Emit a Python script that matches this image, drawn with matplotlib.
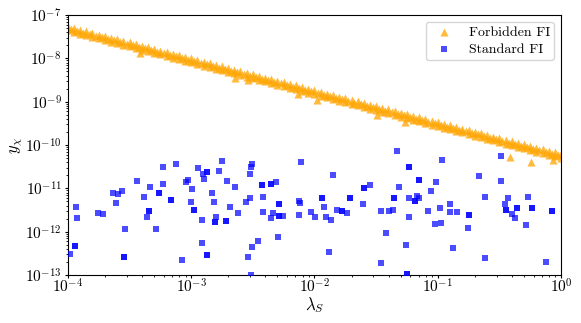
import matplotlib
matplotlib.use("Agg")
import matplotlib.pyplot as plt

plt.rcParams['font.family'] = 'serif'
plt.rcParams['font.serif'] = ['cmr10']
plt.rcParams['mathtext.fontset'] = 'cm'
plt.rcParams['axes.formatter.use_mathtext'] = True

# ---- Forbidden FI (orange triangles) ----
lam_forb = [
    # upper / lower edge of the band
    1.00e-4, 1.12e-4, 1.26e-4, 1.41e-4, 1.58e-4, 1.78e-4, 2.00e-4, 2.24e-4, 2.51e-4, 2.82e-4,
    3.16e-4, 3.55e-4, 3.98e-4, 4.47e-4, 5.01e-4, 5.62e-4, 6.31e-4, 7.08e-4, 7.94e-4, 8.91e-4,
    1.00e-3, 1.12e-3, 1.26e-3, 1.41e-3, 1.58e-3, 1.78e-3, 2.00e-3, 2.24e-3, 2.51e-3, 2.82e-3,
    3.16e-3, 3.55e-3, 3.98e-3, 4.47e-3, 5.01e-3, 5.62e-3, 6.31e-3, 7.08e-3, 7.94e-3, 8.91e-3,
    1.00e-2, 1.12e-2, 1.26e-2, 1.41e-2, 1.58e-2, 1.78e-2, 2.00e-2, 2.24e-2, 2.51e-2, 2.82e-2,
    3.16e-2, 3.55e-2, 3.98e-2, 4.47e-2, 5.01e-2, 5.62e-2, 6.31e-2, 7.08e-2, 7.94e-2, 8.91e-2,
    1.00e-1, 1.12e-1, 1.26e-1, 1.41e-1, 1.58e-1, 1.78e-1, 2.00e-1, 2.24e-1, 2.51e-1, 2.82e-1,
    3.16e-1, 3.55e-1, 3.98e-1, 4.47e-1, 5.01e-1, 5.62e-1, 6.31e-1, 7.08e-1, 7.94e-1, 8.91e-1,
    1.00e0,
    1.00e-4, 1.12e-4, 1.26e-4, 1.41e-4, 1.58e-4, 1.78e-4, 2.00e-4, 2.24e-4, 2.51e-4, 2.82e-4,
    3.16e-4, 3.55e-4, 3.98e-4, 4.47e-4, 5.01e-4, 5.62e-4, 6.31e-4, 7.08e-4, 7.94e-4, 8.91e-4,
    1.00e-3, 1.12e-3, 1.26e-3, 1.41e-3, 1.58e-3, 1.78e-3, 2.00e-3, 2.24e-3, 2.51e-3, 2.82e-3,
    3.16e-3, 3.55e-3, 3.98e-3, 4.47e-3, 5.01e-3, 5.62e-3, 6.31e-3, 7.08e-3, 7.94e-3, 8.91e-3,
    1.00e-2, 1.12e-2, 1.26e-2, 1.41e-2, 1.58e-2, 1.78e-2, 2.00e-2, 2.24e-2, 2.51e-2, 2.82e-2,
    3.16e-2, 3.55e-2, 3.98e-2, 4.47e-2, 5.01e-2, 5.62e-2, 6.31e-2, 7.08e-2, 7.94e-2, 8.91e-2,
    1.00e-1, 1.12e-1, 1.26e-1, 1.41e-1, 1.58e-1, 1.78e-1, 2.00e-1, 2.24e-1, 2.51e-1, 2.82e-1,
    3.16e-1, 3.55e-1, 3.98e-1, 4.47e-1, 5.01e-1, 5.62e-1, 6.31e-1, 7.08e-1, 7.94e-1, 8.91e-1,
    1.00e0,
    # middle of the band
    1.06e-4, 1.19e-4, 1.33e-4, 1.50e-4, 1.68e-4, 1.88e-4, 2.11e-4, 2.37e-4, 2.66e-4, 2.99e-4,
    3.35e-4, 3.76e-4, 4.22e-4, 4.73e-4, 5.31e-4, 5.96e-4, 6.68e-4, 7.50e-4, 8.41e-4, 9.44e-4,
    1.06e-3, 1.19e-3, 1.33e-3, 1.50e-3, 1.68e-3, 1.88e-3, 2.11e-3, 2.37e-3, 2.66e-3, 2.99e-3,
    3.35e-3, 3.76e-3, 4.22e-3, 4.73e-3, 5.31e-3, 5.96e-3, 6.68e-3, 7.50e-3, 8.41e-3, 9.44e-3,
    1.06e-2, 1.19e-2, 1.33e-2, 1.50e-2, 1.68e-2, 1.88e-2, 2.11e-2, 2.37e-2, 2.66e-2, 2.99e-2,
    3.35e-2, 3.76e-2, 4.22e-2, 4.73e-2, 5.31e-2, 5.96e-2, 6.68e-2, 7.50e-2, 8.41e-2, 9.44e-2,
    1.06e-1, 1.19e-1, 1.33e-1, 1.50e-1, 1.68e-1, 1.88e-1, 2.11e-1, 2.37e-1, 2.66e-1, 2.99e-1,
    3.35e-1, 3.76e-1, 4.22e-1, 4.73e-1, 5.31e-1, 5.96e-1, 6.68e-1, 7.50e-1, 8.41e-1, 9.44e-1,
    # points below the band
    3.84e-4, 2.26e-3, 2.89e-3, 7.35e-3, 1.05e-2, 3.21e-2, 5.42e-2, 3.85e-1, 5.71e-1, 8.61e-1,
]
y_forb = [
    5.41e-8, 4.04e-8, 4.56e-8, 3.41e-8, 3.85e-8, 2.88e-8, 3.25e-8, 2.43e-8, 2.75e-8, 2.05e-8,
    2.32e-8, 1.73e-8, 1.96e-8, 1.46e-8, 1.65e-8, 1.23e-8, 1.40e-8, 1.04e-8, 1.18e-8, 8.80e-9,
    9.94e-9, 7.42e-9, 8.39e-9, 6.27e-9, 7.09e-9, 5.29e-9, 5.98e-9, 4.47e-9, 5.05e-9, 3.77e-9,
    4.26e-9, 3.18e-9, 3.60e-9, 2.69e-9, 3.04e-9, 2.27e-9, 2.57e-9, 1.92e-9, 2.17e-9, 1.62e-9,
    1.83e-9, 1.37e-9, 1.54e-9, 1.15e-9, 1.30e-9, 9.73e-10, 1.10e-9, 8.21e-10, 9.29e-10, 6.93e-10,
    7.84e-10, 5.85e-10, 6.62e-10, 4.94e-10, 5.59e-10, 4.17e-10, 4.72e-10, 3.52e-10, 3.98e-10, 2.97e-10,
    3.36e-10, 2.51e-10, 2.84e-10, 2.12e-10, 2.40e-10, 1.79e-10, 2.02e-10, 1.51e-10, 1.71e-10, 1.28e-10,
    1.44e-10, 1.08e-10, 1.22e-10, 9.09e-11, 1.03e-10, 7.67e-11, 8.67e-11, 6.48e-11, 7.32e-11, 5.47e-11,
    6.18e-11,
    4.40e-8, 4.97e-8, 3.71e-8, 4.20e-8, 3.13e-8, 3.54e-8, 2.64e-8, 2.99e-8, 2.24e-8, 2.52e-8,
    1.89e-8, 2.13e-8, 1.59e-8, 1.80e-8, 1.34e-8, 1.51e-8, 1.14e-8, 1.28e-8, 9.59e-9, 1.08e-8,
    8.08e-9, 9.13e-9, 6.82e-9, 7.71e-9, 5.76e-9, 6.51e-9, 4.86e-9, 5.50e-9, 4.10e-9, 4.64e-9,
    3.46e-9, 3.91e-9, 2.93e-9, 3.31e-9, 2.47e-9, 2.79e-9, 2.09e-9, 2.36e-9, 1.76e-9, 1.99e-9,
    1.49e-9, 1.69e-9, 1.25e-9, 1.41e-9, 1.06e-9, 1.20e-9, 8.94e-10, 1.01e-9, 7.55e-10, 8.53e-10,
    6.37e-10, 7.20e-10, 5.38e-10, 6.08e-10, 4.54e-10, 5.13e-10, 3.84e-10, 4.33e-10, 3.23e-10, 3.65e-10,
    2.73e-10, 3.09e-10, 2.31e-10, 2.61e-10, 1.95e-10, 2.20e-10, 1.64e-10, 1.86e-10, 1.39e-10, 1.57e-10,
    1.17e-10, 1.33e-10, 9.92e-11, 1.12e-10, 8.37e-11, 9.44e-11, 7.05e-11, 7.97e-11, 5.95e-11, 6.73e-11,
    5.02e-11,
    4.67e-8, 4.29e-8, 3.94e-8, 3.63e-8, 3.33e-8, 3.06e-8, 2.81e-8, 2.58e-8, 2.37e-8, 2.18e-8,
    2.00e-8, 1.84e-8, 1.69e-8, 1.55e-8, 1.43e-8, 1.31e-8, 1.21e-8, 1.11e-8, 1.02e-8, 9.35e-9,
    8.59e-9, 7.89e-9, 7.25e-9, 6.66e-9, 6.12e-9, 5.63e-9, 5.17e-9, 4.75e-9, 4.36e-9, 4.01e-9,
    3.68e-9, 3.38e-9, 3.11e-9, 2.86e-9, 2.63e-9, 2.41e-9, 2.22e-9, 2.04e-9, 1.87e-9, 1.72e-9,
    1.58e-9, 1.45e-9, 1.33e-9, 1.23e-9, 1.13e-9, 1.03e-9, 9.50e-10, 8.73e-10, 8.02e-10, 7.37e-10,
    6.77e-10, 6.22e-10, 5.72e-10, 5.25e-10, 4.83e-10, 4.44e-10, 4.08e-10, 3.75e-10, 3.44e-10, 3.16e-10,
    2.90e-10, 2.67e-10, 2.45e-10, 2.25e-10, 2.07e-10, 1.90e-10, 1.75e-10, 1.61e-10, 1.48e-10, 1.36e-10,
    1.25e-10, 1.14e-10, 1.05e-10, 9.66e-11, 8.88e-11, 8.15e-11, 7.49e-11, 6.88e-11, 6.32e-11, 5.81e-11,
    1.33e-8, 3.52e-9, 3.16e-9, 1.50e-9, 1.09e-9, 4.92e-10, 3.40e-10, 5.28e-11, 4.05e-11, 4.51e-11,
]

# ---- Standard FI (blue squares) ----
lam_std = [
    5.86e-4, 5.90e-4, 3.65e-4, 4.65e-4, 2.73e-4, 2.33e-4, 2.53e-4, 5.47e-4, 4.16e-4, 2.47e-4,
    1.16e-4, 4.52e-4, 1.18e-4, 1.76e-4, 1.91e-4, 4.40e-4, 2.90e-4, 5.15e-4, 1.15e-4, 1.04e-4,
    2.85e-4,
    1.79e-3, 7.48e-4, 3.11e-3, 3.03e-3, 1.14e-3, 1.34e-3, 1.67e-3, 1.25e-3, 2.98e-3, 1.26e-3,
    9.40e-4, 9.00e-4, 1.94e-3, 2.26e-3, 3.77e-3, 1.01e-3, 1.47e-3, 3.80e-3, 2.98e-3, 6.81e-4,
    9.95e-4, 1.53e-3, 2.80e-3, 2.07e-3, 1.05e-3, 2.39e-3, 3.80e-3, 1.60e-3, 1.22e-3, 1.56e-3,
    1.92e-3, 3.50e-3, 1.22e-3, 3.09e-3, 1.35e-3, 2.89e-3, 8.37e-4, 3.03e-3,
    7.80e-3, 1.41e-2, 4.41e-3, 4.84e-3, 2.52e-2, 1.14e-2, 1.94e-2, 7.45e-3, 7.63e-3, 5.18e-3,
    2.49e-2, 1.19e-2, 4.58e-3, 4.47e-3, 5.15e-3, 5.55e-3, 7.45e-3, 9.42e-3, 1.01e-2, 1.24e-2,
    1.52e-2, 1.66e-2, 1.84e-2, 1.35e-2, 5.06e-3, 1.30e-2,
    4.65e-2, 1.08e-1, 5.81e-2, 7.05e-2, 9.68e-2, 2.82e-2, 4.82e-2, 8.77e-2, 4.39e-2, 5.81e-2,
    6.75e-2, 7.10e-2, 6.58e-2, 3.47e-2, 4.02e-2, 4.36e-2, 8.28e-2, 1.04e-1, 1.26e-1, 1.26e-1,
    1.44e-1, 5.85e-2, 9.55e-2, 1.06e-1, 3.80e-2, 5.50e-2, 1.34e-1, 3.47e-2, 5.60e-2,
    3.24e-1, 2.16e-1, 3.24e-1, 2.42e-1, 3.72e-1, 5.43e-1, 3.52e-1, 3.58e-1, 4.42e-1, 5.82e-1,
    3.98e-1, 4.24e-1, 1.78e-1, 8.41e-1, 1.77e-1, 5.17e-1, 2.43e-1, 7.55e-1,
    # points that appear twice (darker squares)
    5.47e-4, 4.52e-4, 1.15e-4, 2.85e-4, 1.34e-3, 3.77e-3, 6.81e-4, 1.05e-3, 1.56e-3, 1.92e-3,
    1.35e-3, 4.41e-3, 2.52e-2, 1.14e-2, 1.94e-2, 5.18e-3, 5.15e-3, 1.66e-2, 5.81e-2, 7.05e-2,
    4.39e-2, 6.58e-2, 5.60e-2, 3.58e-1, 4.42e-1, 5.82e-1, 1.78e-1, 8.41e-1,
]
y_std = [
    3.15e-11, 1.26e-11, 1.45e-11, 1.07e-11, 8.5e-12, 7.7e-12, 7.5e-12, 7.7e-12, 6.2e-12, 4.6e-12,
    3.65e-12, 3.04e-12, 2.1e-12, 2.74e-12, 2.55e-12, 2.18e-12, 1.17e-12, 1.15e-12, 4.6e-13, 3.0e-13,
    2.64e-13,
    4.28e-11, 3.7e-11, 3.64e-11, 3.15e-11, 2.9e-11, 2.38e-11, 2.55e-11, 2.14e-11, 2.16e-11, 1.67e-11,
    1.58e-11, 1.42e-11, 1.5e-11, 1.06e-11, 1.19e-11, 9.6e-12, 7.9e-12, 6.3e-12, 6.0e-12, 5.3e-12,
    4.83e-12, 4.78e-12, 4.83e-12, 3.77e-12, 3.1e-12, 2.74e-12, 2.8e-12, 2.21e-12, 1.86e-12, 1.67e-12,
    1.73e-12, 6.0e-13, 5.4e-13, 4.36e-13, 2.94e-13, 2.6e-13, 2.22e-13, 1.0e-13,
    3.98e-11, 2.06e-11, 1.26e-11, 1.38e-11, 1.03e-11, 6.0e-12, 5.95e-12, 5.0e-12, 4.5e-12, 4.35e-12,
    4.39e-12, 3.7e-12, 2.65e-12, 2.03e-12, 2.33e-12, 2.26e-12, 2.46e-12, 2.8e-12, 2.18e-12, 2.14e-12,
    3.2e-12, 2.95e-12, 2.65e-12, 1.86e-12, 7.6e-13, 3.33e-13,
    7.1e-11, 4.5e-11, 3.15e-11, 1.58e-11, 1.38e-11, 1.19e-11, 1.07e-11, 8.7e-12, 6.1e-12, 6.1e-12,
    6.8e-12, 6.1e-12, 5.2e-12, 3.04e-12, 3.04e-12, 3.2e-12, 3.0e-12, 3.57e-12, 4.39e-12, 2.88e-12,
    2.88e-12, 2.21e-12, 1.52e-12, 1.58e-12, 9.3e-13, 4.84e-13, 4.2e-13, 1.92e-13, 1.08e-13,
    5.57e-11, 1.89e-11, 1.45e-11, 6.3e-12, 6.1e-12, 6.2e-12, 4.39e-12, 3.2e-12, 3.57e-12, 3.46e-12,
    2.6e-12, 2.07e-12, 2.38e-12, 3.0e-12, 1.23e-12, 1.42e-12, 2.43e-13, 2.03e-13,
    # points that appear twice (darker squares)
    7.7e-12, 3.04e-12, 4.6e-13, 2.64e-13, 2.38e-11, 1.19e-11, 5.3e-12, 3.1e-12, 1.67e-12, 1.73e-12,
    2.94e-13, 1.26e-11, 1.03e-11, 6.0e-12, 5.95e-12, 4.35e-12, 2.33e-12, 2.95e-12, 3.15e-11, 1.58e-11,
    6.1e-12, 5.2e-12, 1.08e-13, 3.2e-12, 3.57e-12, 3.46e-12, 2.38e-12, 3.0e-12,
]

labels = ["Forbidden FI", "Standard FI"]

fig = plt.figure(figsize=(5.81, 3.23), dpi=100)
ax = fig.add_axes([0.117, 0.1486, 0.8486, 0.805])

ax.scatter(lam_forb, y_forb, marker='^', s=34, color='orange', alpha=0.75,
           linewidths=0, label=labels[0], zorder=2)
ax.scatter(lam_std, y_std, marker='s', s=20, color='blue', alpha=0.7,
           linewidths=0, label=labels[1], zorder=3)

ax.set_xscale('log')
ax.set_yscale('log')
ax.set_xlim(1e-4, 1)
ax.set_ylim(1e-13, 1e-7)
ax.set_xlabel(r'$\lambda_S$', fontsize=12, labelpad=0)
ax.set_ylabel(r'$y_\chi$', fontsize=12, labelpad=0)
ax.tick_params(axis='both', which='major', labelsize=11, length=2.5)
ax.tick_params(axis='both', which='minor', length=1.5)
ax.tick_params(axis='x', which='major', pad=-1)
ax.tick_params(axis='y', which='major', pad=2)

leg = ax.legend(loc='upper right', scatterpoints=1, fontsize=10,
                frameon=True, fancybox=True, edgecolor='#cccccc',
                handlelength=2.0, handletextpad=0.8, labelspacing=0.3,
                borderpad=0.3)

fig.savefig('out.png', dpi=100)
